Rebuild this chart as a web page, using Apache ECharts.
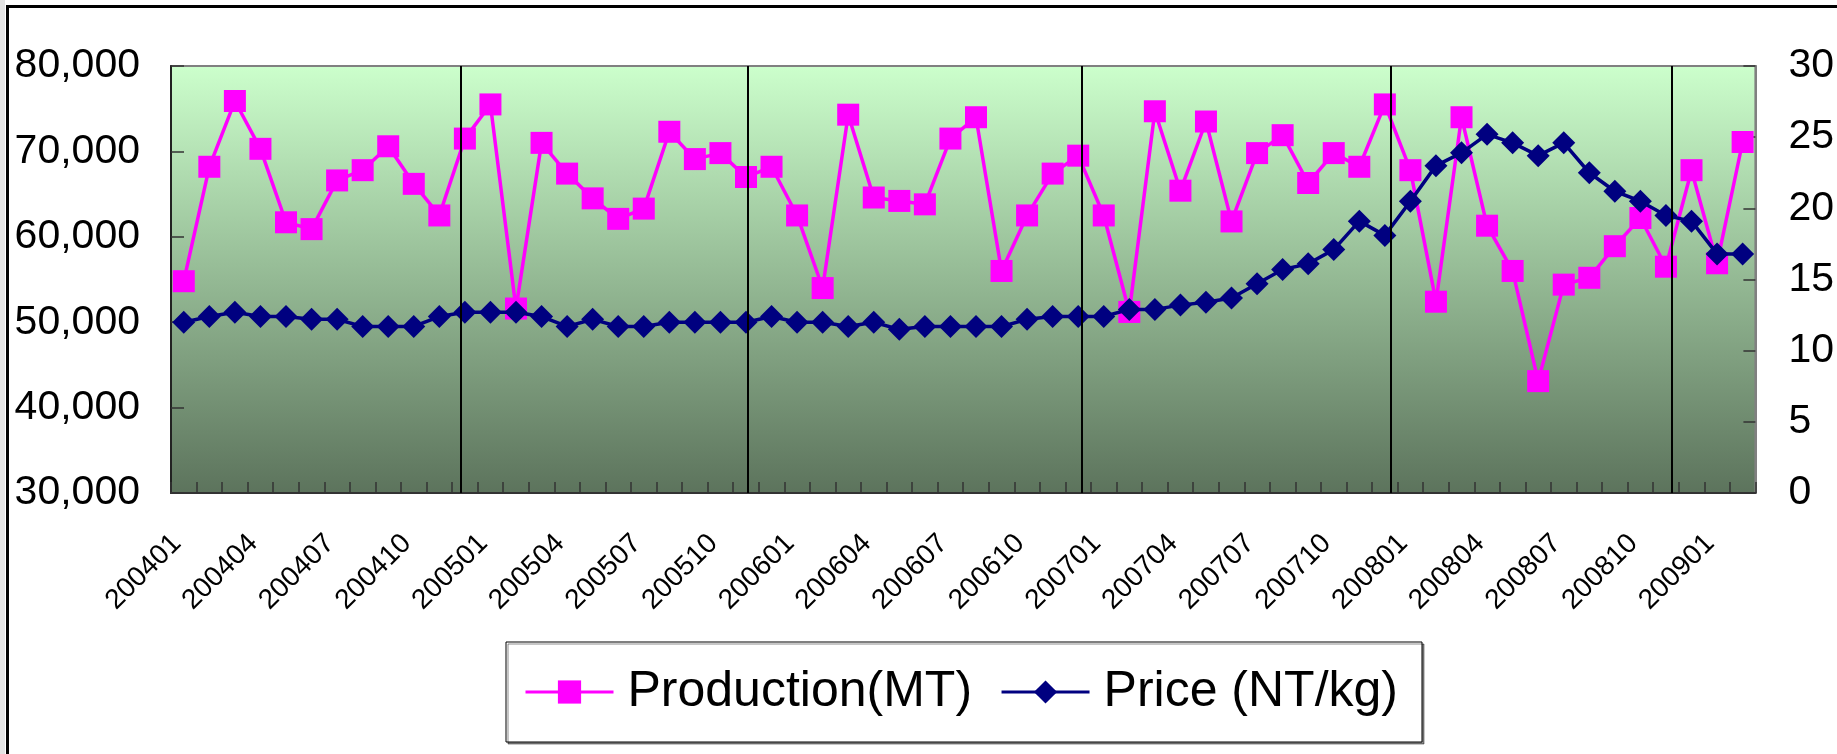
<!DOCTYPE html>
<html>
<head>
<meta charset="utf-8">
<script src="https://cdn.jsdelivr.net/npm/echarts@6/dist/echarts.min.js"></script>
<style>
  html, body { margin: 0; padding: 0; background: #fff; }
  #main { width: 1837px; height: 754px; }
</style>
</head>
<body>
<div id="main"></div>
<script>
// months shown on the x axis (labels every 3rd month)
var months = [
  '200401','200402','200403','200404','200405','200406','200407','200408','200409','200410','200411','200412',
  '200501','200502','200503','200504','200505','200506','200507','200508','200509','200510','200511','200512',
  '200601','200602','200603','200604','200605','200606','200607','200608','200609','200610','200611','200612',
  '200701','200702','200703','200704','200705','200706','200707','200708','200709','200710','200711','200712',
  '200801','200802','200803','200804','200805','200806','200807','200808','200809','200810','200811','200812',
  '200901','200902'
];

// Production (MT), left axis
var production = [
  54800, 68200, 75900, 70300, 61700, 60900, 66600, 67800, 70600, 66200, 62500, 71500,
  75500, 51600, 71000, 67400, 64500, 62100, 63300, 72300, 69100, 69800, 67000, 68200,
  62500, 54000, 74300, 64600, 64200, 63800, 71500, 74000, 56000, 62500, 67400, 69500,
  62500, 51200, 74700, 65400, 73500, 61800, 69800, 71900, 66300, 69800, 68200, 75500,
  67800, 52400, 74000, 61300, 56000, 43100, 54400, 55200, 58900, 62200, 56500, 67800,
  56900, 71100
];

// Price (NT/kg), right axis
var price = [
  12.0, 12.4, 12.7, 12.4, 12.4, 12.2, 12.2, 11.7, 11.7, 11.7, 12.4, 12.7,
  12.7, 12.7, 12.4, 11.7, 12.2, 11.7, 11.7, 12.0, 12.0, 12.0, 12.0, 12.4,
  12.0, 12.0, 11.7, 12.0, 11.5, 11.7, 11.7, 11.7, 11.7, 12.2, 12.4, 12.4,
  12.4, 12.9, 12.9, 13.2, 13.4, 13.7, 14.7, 15.7, 16.1, 17.1, 19.1, 18.1,
  20.5, 23.0, 23.9, 25.2, 24.6, 23.7, 24.6, 22.5, 21.2, 20.5, 19.5, 19.1,
  16.8, 16.8
];

// hand drawn year separators, in category units (0 = first month)
var separators = [10.85, 22.08, 35.12, 47.24, 58.24];

var font = 'Liberation Sans, Arial, sans-serif';

var chart = echarts.init(document.getElementById('main'));
chart.setOption({
  animation: false,
  backgroundColor: '#fff',
  textStyle: { fontFamily: font, color: '#000' },
  graphic: [
    { type: 'rect', shape: { x: 0, y: 0, width: 5, height: 754 }, style: { fill: '#e3e3e3' } },
    { type: 'rect', shape: { x: 7.5, y: 6.5, width: 2000, height: 2000 },
      style: { fill: 'none', stroke: '#000', lineWidth: 3 } }
  ],
  grid: {
    left: 171, right: 79, top: 66, bottom: 261,
    show: true,
    borderColor: '#808080',
    borderWidth: 2,
    backgroundColor: {
      type: 'linear', x: 0, y: 0, x2: 0, y2: 1,
      colorStops: [
        { offset: 0, color: '#ccffcc' },
        { offset: 1, color: '#5c735c' }
      ]
    }
  },
  legend: {
    left: 506,
    top: 642,
    data: ['Production(MT)', 'Price (NT/kg)'],
    orient: 'horizontal',
    itemWidth: 88,
    itemHeight: 29,
    itemGap: 28,
    padding: [22, 24, 22, 18],
    borderColor: '#000',
    borderWidth: 1,
    backgroundColor: '#fff',
    shadowColor: 'rgba(0,0,0,0.45)',
    shadowOffsetX: 2,
    shadowOffsetY: 2,
    lineStyle: { width: 3 },
    textStyle: { fontSize: 50, lineHeight: 56, color: '#000', fontFamily: font, padding: [0, 0, 0, 9] }
  },
  xAxis: [
    {
      type: 'category',
      data: months,
      boundaryGap: true,
      axisLine: { onZero: false, lineStyle: { color: '#333', width: 2 } },
      axisTick: { show: true, inside: true, length: 11, interval: 0, lineStyle: { color: '#333', width: 1.5 } },
      axisLabel: {
        interval: 2, rotate: 45, fontSize: 28, margin: 39, padding: [0, 10, 0, 0],
        color: '#000', fontFamily: font
      },
      splitLine: { show: false }
    },
    {
      type: 'value',
      min: -0.5,
      max: months.length - 0.5,
      show: false
    }
  ],
  yAxis: [
    {
      type: 'value',
      position: 'left',
      min: 30000, max: 80000, interval: 10000,
      axisLine: { show: true, onZero: false, lineStyle: { color: '#222', width: 2 } },
      axisTick: { show: true, inside: true, length: 13, lineStyle: { color: '#333', width: 1.5 } },
      axisLabel: {
        fontSize: 41, margin: 31, color: '#000', fontFamily: font,
        formatter: function (v) { return v.toLocaleString('en-US'); }
      },
      splitLine: { show: false }
    },
    {
      type: 'value',
      position: 'right',
      min: 0, max: 30, interval: 5,
      axisLine: { show: true, onZero: false, lineStyle: { color: '#808080', width: 2 } },
      axisTick: { show: true, inside: true, length: 12, lineStyle: { color: '#333', width: 1.5 } },
      axisLabel: { fontSize: 41, margin: 33, color: '#000', fontFamily: font },
      splitLine: { show: false }
    }
  ],
  series: [
    {
      name: 'Production(MT)',
      type: 'line',
      xAxisIndex: 0,
      yAxisIndex: 0,
      data: production,
      symbol: 'rect',
      symbolSize: 22,
      showAllSymbol: true,
      lineStyle: { color: '#ff00ff', width: 3.5 },
      itemStyle: { color: '#ff00ff', borderWidth: 0 },
      z: 3
    },
    {
      name: 'Price (NT/kg)',
      type: 'line',
      xAxisIndex: 0,
      yAxisIndex: 1,
      data: price,
      symbol: 'diamond',
      symbolSize: 23,
      showAllSymbol: true,
      lineStyle: { color: '#000080', width: 3.5 },
      itemStyle: { color: '#000080', borderWidth: 0 },
      z: 4
    },
    {
      type: 'line',
      xAxisIndex: 1,
      yAxisIndex: 0,
      data: [],
      silent: true,
      markLine: {
        silent: true,
        symbol: 'none',
        label: { show: false },
        lineStyle: { color: '#000', width: 2, type: 'solid' },
        data: separators.map(function (v) { return { xAxis: v }; })
      },
      z: 5
    }
  ]
});
</script>
</body>
</html>
